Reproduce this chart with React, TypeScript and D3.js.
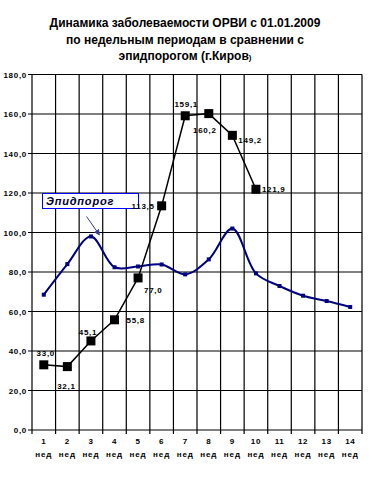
import React from "react";
import * as d3 from "d3";

const weeks = ["1", "2", "3", "4", "5", "6", "7", "8", "9", "10", "11", "12", "13", "14"];
const incidence = [33.0, 32.1, 45.1, 55.8, 77.0, 113.5, 159.1, 160.2, 149.2, 121.9];
const incidenceLabels = ["33,0", "32,1", "45,1", "55,8", "77,0", "113,5", "159,1", "160,2", "149,2", "121,9"];
const threshold = [68.5, 84, 98, 82.4, 82.8, 83.8, 78.8, 86.4, 102, 79.3, 72.9, 68, 65.3, 62.3];
const yTicks = [0, 20, 40, 60, 80, 100, 120, 140, 160, 180];
const titleLines = ["Динамика заболеваемости ОРВИ с 01.01.2009", "по недельным периодам в сравнении с", "эпидпорогом (г.Киров"];

// label placement relative to point: [anchor, dx, dy]
const labelPlacement: [string, number, number][] = [
  ["middle", 2, -12],
  ["middle", -1, 19],
  ["middle", -3, -9],
  ["start", 12, 0],
  ["start", 6, 12],
  ["end", -7, 0],
  ["middle", 1, -12],
  ["middle", -4, 16],
  ["start", 6, 5],
  ["start", 6, 0],
];

export default function App() {
  const W = 373, H = 493;
  const left = 32, right = 362, top = 74.5, bottom = 430;
  const x = d3.scaleBand<string>().domain(weeks).range([left, right]);
  const y = d3.scaleLinear().domain([0, 180]).range([bottom, top]);
  const cx = (i: number) => (x(weeks[i]) as number) + x.bandwidth() / 2;

  const blueLine = d3
    .line<number>()
    .x((_, i) => cx(i))
    .y((d) => y(d))
    .curve(d3.curveCatmullRom.alpha(0.5));
  const blackLine = d3
    .line<number>()
    .x((_, i) => cx(i))
    .y((d) => y(d));

  const fmt = (v: number) => v.toFixed(1).replace(".", ",");
  const font = "'Liberation Sans', Arial, sans-serif";

  return (
    <svg width={W} height={H} style={{ position: "absolute", left: 0, top: 0, background: "#fff" }}>
      <defs>
        <marker id="arr" viewBox="0 0 10 10" refX="9" refY="5" markerWidth="6" markerHeight="6" orient="auto">
          <path d="M0,0 L10,5 L0,10 z" fill="#3a3a90" />
        </marker>
      </defs>
      <rect x={0} y={0} width={W} height={H} fill="#fff" />
      {titleLines.map((t, i) => (
        <text key={i} x={185} y={27 + i * 16.5} textAnchor="middle" fontFamily={font} fontWeight="bold" fontSize={12} fill="#000">
          {t}
          {i === 2 ? <tspan fontSize={8}>)</tspan> : null}
        </text>
      ))}
      {/* horizontal gridlines */}
      {yTicks.map((t) => (
        <line key={t} x1={left - 4} x2={right} y1={y(t)} y2={y(t)} stroke="#000" strokeWidth={1.2} />
      ))}
      {/* vertical gridlines */}
      {weeks.map((w, i) => (
        <line key={w} x1={x(w) as number} x2={x(w) as number} y1={top} y2={bottom + 4} stroke="#000" strokeWidth={1.2} />
      ))}
      <line x1={right} x2={right} y1={top} y2={bottom + 4} stroke="#000" strokeWidth={1.2} />
      {yTicks.map((t) => (
        <text key={"l" + t} x={27} y={y(t) + 3} textAnchor="end" fontFamily={font} fontSize={8} fontWeight="bold" letterSpacing={0.7} fill="#000">
          {fmt(t)}
        </text>
      ))}
      {weeks.map((w, i) => (
        <g key={"x" + w} fontFamily={font} fontSize={8} fontWeight="bold" fill="#000" textAnchor="middle">
          <text x={cx(i)} y={444} letterSpacing={0.6}>{w}</text>
          <text x={cx(i)} y={457} letterSpacing={0.9}>нед</text>
        </g>
      ))}
      {/* legend box */}
      <rect x={42.5} y={193.5} width={96} height={15} fill="#fff" stroke="#0000ff" strokeWidth={1} />
      <text x={46} y={205} fontFamily={font} fontSize={11} fontWeight="bold" fontStyle="italic" fill="#000033" letterSpacing={0.8}>
        Эпидпорог
      </text>
      <line x1={86.5} y1={216.5} x2={99.5} y2={235} stroke="#3a3a90" strokeWidth={1} markerEnd="url(#arr)" />
      {/* threshold */}
      <path d={blueLine(threshold) || ""} fill="none" stroke="#000080" strokeWidth={2} />
      {threshold.map((v, i) => (
        <rect key={"b" + i} x={cx(i) - 2} y={y(v) - 2} width={4} height={4} fill="#000080" />
      ))}
      {/* incidence */}
      <path d={blackLine(incidence) || ""} fill="none" stroke="#000" strokeWidth={1.5} />
      {incidence.map((v, i) => (
        <rect key={"k" + i} x={cx(i) - 4.5} y={y(v) - 4.5} width={9} height={9} fill="#000" />
      ))}
      {incidence.map((v, i) => {
        const [a, dx, dy] = labelPlacement[i];
        return (
          <text key={"t" + i} x={cx(i) + dx} y={y(v) + dy + 3} textAnchor={a as any} fontFamily={font} fontSize={8} fontWeight="bold" letterSpacing={0.7} fill="#000">
            {incidenceLabels[i]}
          </text>
        );
      })}
    </svg>
  );
}
